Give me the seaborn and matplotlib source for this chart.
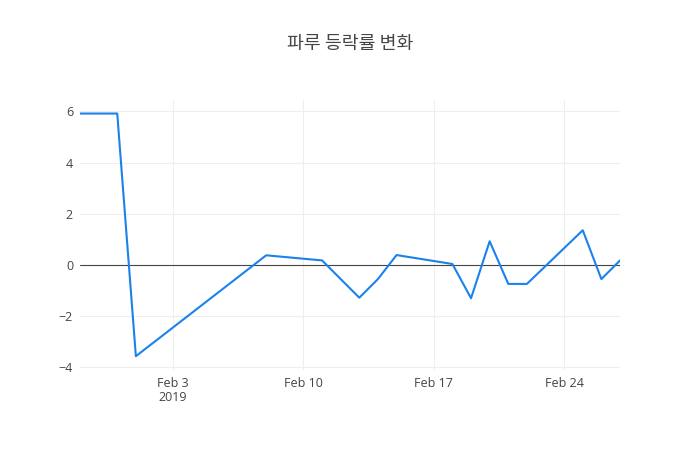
import pandas as pd
import numpy as np
import matplotlib
matplotlib.use("Agg")
import matplotlib.pyplot as plt
import matplotlib.dates as mdates
import seaborn as sns

dates = ['2019-01-29', '2019-01-30', '2019-01-31', '2019-02-01', '2019-02-08',
         '2019-02-11', '2019-02-13', '2019-02-14', '2019-02-15', '2019-02-18',
         '2019-02-19', '2019-02-20', '2019-02-21', '2019-02-22', '2019-02-25',
         '2019-02-26', '2019-02-27']
change = [5.92, 5.92, 5.92, -3.58, 0.37, 0.17, -1.29, -0.56, 0.38, 0.03,
          -1.31, 0.92, -0.75, -0.75, 1.35, -0.56, 0.17]
tick_dates = ['2019-02-03', '2019-02-10', '2019-02-17', '2019-02-24']
tick_labels = ['Feb 3\n2019', 'Feb 10', 'Feb 17', 'Feb 24']
y_ticks = [-4, -2, 0, 2, 4, 6]
title = '파루 등락률 변화'

df = pd.DataFrame({'date': pd.to_datetime(dates), 'change': change})

sns.set_style('white')
plt.rcParams['font.family'] = ['Open Sans', 'Noto Sans CJK KR', 'DejaVu Sans']

fig = plt.figure(figsize=(7, 4.5), dpi=100)
ax = fig.add_axes([80 / 700, 80 / 450, 540 / 700, 270 / 450])

# grid and zero line first so the series sits on top
for d in pd.to_datetime(tick_dates):
    ax.axvline(d, color='#eeeeee', lw=0.8, zorder=0)
for t in y_ticks:
    if t != 0:
        ax.axhline(t, color='#eeeeee', lw=0.8, zorder=0)
ax.axhline(0, color='#444444', lw=0.8, zorder=1)

sns.lineplot(data=df, x='date', y='change', ax=ax, color='#1a82ec', lw=1.5, zorder=3)

ax.set_xlim(df['date'].min(), df['date'].max())
ax.set_ylim(-4.12, 6.45)
ax.set_xticks(pd.to_datetime(tick_dates))
ax.set_xticklabels(tick_labels)
ax.set_yticks(y_ticks)
ax.set_yticklabels([str(t).replace('-', '\u2212') for t in y_ticks])
ax.tick_params(length=0, labelsize=9, colors='#444444', pad=5)
for lbl in ax.get_xticklabels():
    lbl.set_linespacing(1.15)
ax.set_xlabel('')
ax.set_ylabel('')
sns.despine(ax=ax, left=True, bottom=True)

fig.text(0.5, 1 - 44 / 450, title, ha='center', va='center', fontsize=13.2,
         color='#444444', family=['Noto Sans CJK KR', 'DejaVu Sans'])

fig.savefig('out.png', dpi=100, facecolor='white')
